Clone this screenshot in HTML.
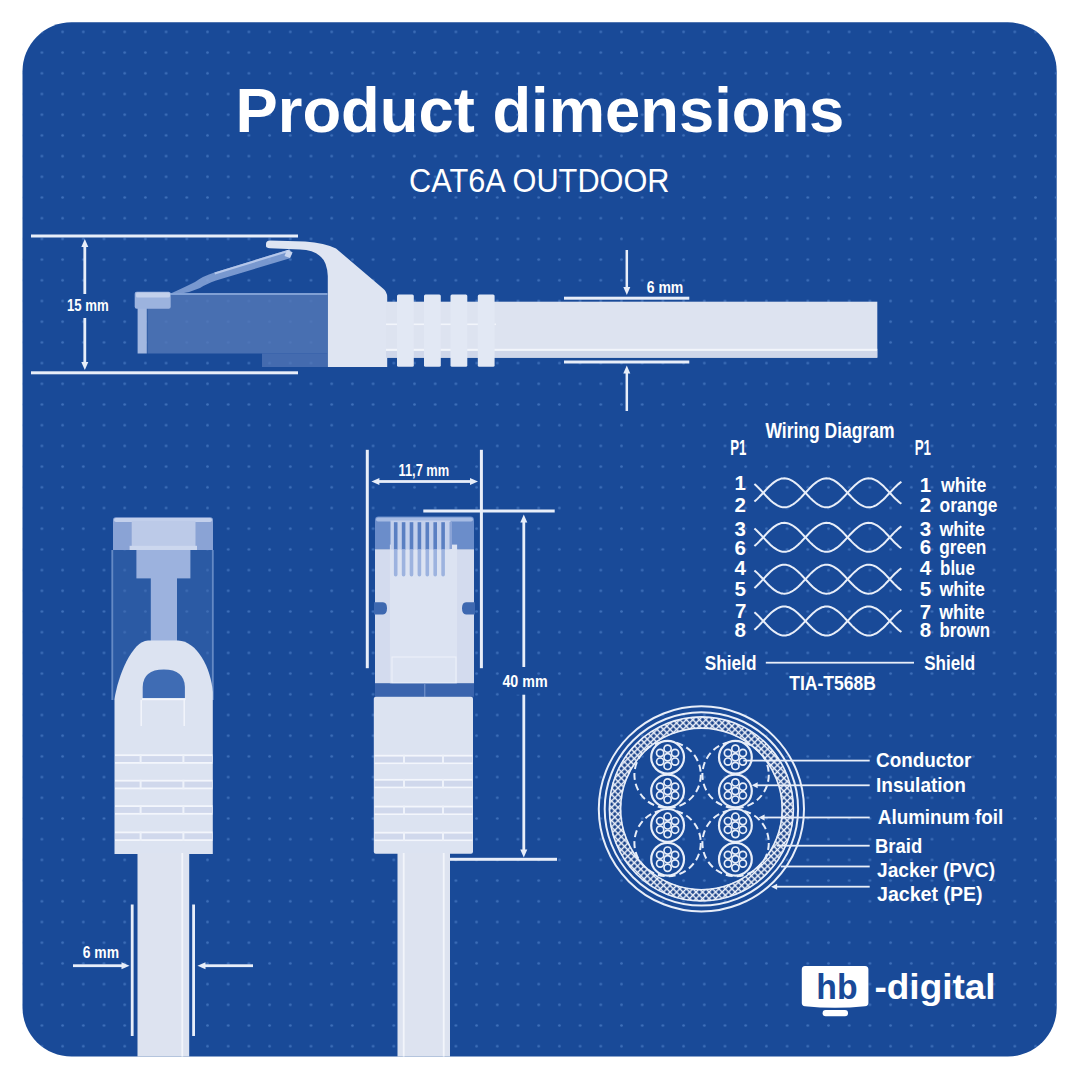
<!DOCTYPE html>
<html><head><meta charset="utf-8"><style>
html,body{margin:0;padding:0;background:#fff;}
svg{display:block;}
text{font-family:"Liberation Sans",sans-serif;}
</style></head><body>
<svg width="1080" height="1080" viewBox="0 0 1080 1080">
<defs>
<clipPath id="panel"><rect x="22.5" y="22.3" width="1034.2" height="1034.3" rx="49"/></clipPath>
<pattern id="dots" patternUnits="userSpaceOnUse" x="31.549999999999997" y="21.549999999999997" width="20.7" height="20.7">
<circle cx="10.35" cy="10.35" r="1.35" fill="#4a7cc4" fill-opacity="0.75"/></pattern>
<pattern id="braid" patternUnits="userSpaceOnUse" width="4.6" height="4.6" patternTransform="rotate(45)">
<rect width="4.6" height="4.6" fill="#eef2fa"/><rect x="1.3" y="1.3" width="3.1" height="3.1" fill="#163f88"/></pattern>
</defs>
<rect x="22.5" y="22.3" width="1034.2" height="1034.3" rx="49" fill="#194a98"/>
<rect x="22.5" y="22.3" width="1034.2" height="1034.3" rx="49" fill="url(#dots)"/>
<g clip-path="url(#panel)">
<text x="235.50" y="132.00" font-size="62.30" font-weight="700" textLength="608.84" lengthAdjust="spacingAndGlyphs" fill="#fff" >Product dimensions</text>
<text x="409.00" y="191.60" font-size="32.50" font-weight="400" textLength="260.53" lengthAdjust="spacingAndGlyphs" fill="#fff" >CAT6A OUTDOOR</text>
<rect x="31.00" y="234.50" width="267.00" height="3" fill="#e8eef9"/>
<rect x="31.00" y="371.30" width="267.00" height="3" fill="#e8eef9"/>
<rect x="83.40" y="246.00" width="2.8" height="117.00" fill="#e8eef9"/>
<path d="M84.80 239.00 L88.30 247.00 L81.30 247.00Z" fill="#e8eef9"/>
<path d="M84.80 370.00 L88.30 362.00 L81.30 362.00Z" fill="#e8eef9"/>
<rect x="78" y="294" width="14" height="24" fill="#194a98"/>
<text x="67.00" y="310.90" font-size="17.40" font-weight="700" textLength="41.78" lengthAdjust="spacingAndGlyphs" fill="#fff" >15 mm</text>
<rect x="147.4" y="293.2" width="180" height="60.3" fill="#5478b8" fill-opacity="0.8"/>
<rect x="262" y="353.5" width="65.4" height="13.5" fill="#5478b8" fill-opacity="0.72"/>
<rect x="147.4" y="293.2" width="180" height="1.6" fill="#8fadde"/>
<rect x="137.6" y="296" width="9.2" height="57.5" fill="#a3b8e0"/>
<rect x="134.7" y="291.8" width="36" height="17" rx="2" fill="#9cb3de"/>
<rect x="136" y="292.5" width="34" height="5" rx="1.5" fill="#c3d1ec"/>
<path d="M170.7 293.5 Q185 287 195 282 Q203 276 214.4 272.5 L289.3 249.4 L292.5 252.5 L290 258.2 L216 280.5 Q206 284 200 288 Q190 292.5 180 293.8Z" fill="#8aa6d8" fill-opacity="0.85"/>
<path d="M214.4 272.5 L289.3 249.4 L290 251.5 L215 274.5Z" fill="#b5c7ea"/>
<path d="M287 250 L292.5 252.5 L290 258 L284.5 256Z" fill="#c8d5ee"/>
<path d="M266 244 Q266 240.4 270 240.4 L305 241.5 Q325 243 336 248.5 L383 288.5 Q387.2 292 387.2 297 L387.2 367 L327.8 367 L327.8 276 Q327 262 321 257 Q314 249.8 300 249.5 L270 248.2 Q266 248 266 246Z" fill="#dfe5f2"/>
<rect x="386" y="301.7" width="491.3" height="56" fill="#dde3f0"/>
<rect x="386" y="348.8" width="491.3" height="2" fill="#f2f5fb"/>
<rect x="386" y="351" width="491.3" height="6.7" fill="#cfd7ea"/>
<rect x="386" y="323.5" width="110" height="1.6" fill="#f2f5fb"/>
<rect x="397" y="294.4" width="16.8" height="72.4" rx="1.5" fill="#e2e8f4"/>
<rect x="424" y="294.4" width="16.8" height="72.4" rx="1.5" fill="#e2e8f4"/>
<rect x="450.5" y="294.4" width="16.8" height="72.4" rx="1.5" fill="#e2e8f4"/>
<rect x="477.8" y="294.4" width="16.8" height="72.4" rx="1.5" fill="#e2e8f4"/>
<rect x="564.00" y="296.70" width="125.30" height="3" fill="#e8eef9"/>
<rect x="564.00" y="360.50" width="125.30" height="3" fill="#e8eef9"/>
<rect x="625.55" y="250.00" width="2.5" height="38.00" fill="#e8eef9"/>
<path d="M626.80 295.00 L630.30 287.00 L623.30 287.00Z" fill="#e8eef9"/>
<rect x="625.55" y="372.50" width="2.5" height="38.50" fill="#e8eef9"/>
<path d="M626.80 365.50 L630.30 373.50 L623.30 373.50Z" fill="#e8eef9"/>
<text x="646.70" y="293.30" font-size="16.60" font-weight="700" textLength="36.63" lengthAdjust="spacingAndGlyphs" fill="#fff" >6 mm</text>
<rect x="365.80" y="449.80" width="3" height="218.40" fill="#e8eef9"/>
<rect x="479.90" y="449.80" width="3" height="218.40" fill="#e8eef9"/>
<rect x="378.40" y="480.10" width="92.60" height="2.8" fill="#e8eef9"/>
<path d="M371.40 481.50 L379.40 478.00 L379.40 485.00Z" fill="#e8eef9"/>
<path d="M478.00 481.50 L470.00 478.00 L470.00 485.00Z" fill="#e8eef9"/>
<text x="398.50" y="475.80" font-size="16.20" font-weight="700" textLength="50.73" lengthAdjust="spacingAndGlyphs" fill="#fff" >11,7 mm</text>
<path d="M375 520 Q375 516.6 378.5 516.6 L470.5 516.6 Q474 516.6 474 520 L474 549.2 L375 549.2Z" fill="#6b8dca"/>
<rect x="376" y="517.5" width="97" height="4" rx="2" fill="#a6bbe3"/>
<rect x="375" y="549.2" width="99" height="134.3" fill="#d3dbee"/>
<rect x="389.9" y="544.6" width="67.2" height="139" fill="#dce3f2"/>
<rect x="390.5" y="520.5" width="60" height="29" fill="#c3d0ec"/>
<rect x="393.90" y="522.2" width="3.6" height="27.5" fill="#5a7fc2"/>
<path d="M393.90 549.2 h3.6 v25.5 q0 1.8 -1.8 1.8 q-1.8 0 -1.8 -1.8Z" fill="#9db3df"/>
<rect x="401.80" y="522.2" width="3.6" height="27.5" fill="#5a7fc2"/>
<path d="M401.80 549.2 h3.6 v25.5 q0 1.8 -1.8 1.8 q-1.8 0 -1.8 -1.8Z" fill="#9db3df"/>
<rect x="409.70" y="522.2" width="3.6" height="27.5" fill="#5a7fc2"/>
<path d="M409.70 549.2 h3.6 v25.5 q0 1.8 -1.8 1.8 q-1.8 0 -1.8 -1.8Z" fill="#9db3df"/>
<rect x="417.60" y="522.2" width="3.6" height="27.5" fill="#5a7fc2"/>
<path d="M417.60 549.2 h3.6 v25.5 q0 1.8 -1.8 1.8 q-1.8 0 -1.8 -1.8Z" fill="#9db3df"/>
<rect x="425.50" y="522.2" width="3.6" height="27.5" fill="#5a7fc2"/>
<path d="M425.50 549.2 h3.6 v25.5 q0 1.8 -1.8 1.8 q-1.8 0 -1.8 -1.8Z" fill="#9db3df"/>
<rect x="433.40" y="522.2" width="3.6" height="27.5" fill="#5a7fc2"/>
<path d="M433.40 549.2 h3.6 v25.5 q0 1.8 -1.8 1.8 q-1.8 0 -1.8 -1.8Z" fill="#9db3df"/>
<rect x="441.30" y="522.2" width="3.6" height="27.5" fill="#5a7fc2"/>
<path d="M441.30 549.2 h3.6 v25.5 q0 1.8 -1.8 1.8 q-1.8 0 -1.8 -1.8Z" fill="#9db3df"/>
<rect x="449.5" y="522" width="2.5" height="27" fill="#8aa3d6"/>
<path d="M374 602.2 L383 602.2 Q387 602.2 387 608.3 Q387 614.4 383 614.4 L374 614.4Z" fill="#3d68b0"/>
<path d="M475 602.2 L466 602.2 Q462 602.2 462 608.3 Q462 614.4 466 614.4 L475 614.4Z" fill="#3d68b0"/>
<rect x="392" y="657" width="64" height="26" fill="none" stroke="#eef2fa" stroke-width="1"/>
<rect x="375" y="683.5" width="99" height="13.3" fill="#3a64ad"/>
<rect x="424.3" y="683.5" width="1" height="13.3" fill="#7d9bd0"/>
<rect x="373.8" y="696.8" width="99.2" height="157" rx="2" fill="#dce3f1"/>
<rect x="374.5" y="754.8" width="98" height="9.3" fill="#f3f6fc"/>
<rect x="374.5" y="756.5999999999999" width="98" height="5.9" fill="#d0d8ec"/>
<rect x="403" y="754.8" width="2" height="9.3" fill="#eef2fa"/>
<rect x="442" y="754.8" width="2" height="9.3" fill="#eef2fa"/>
<rect x="374.5" y="778.9" width="98" height="9.3" fill="#f3f6fc"/>
<rect x="374.5" y="780.6999999999999" width="98" height="5.9" fill="#d0d8ec"/>
<rect x="403" y="778.9" width="2" height="9.3" fill="#eef2fa"/>
<rect x="442" y="778.9" width="2" height="9.3" fill="#eef2fa"/>
<rect x="374.5" y="805.7" width="98" height="9.3" fill="#f3f6fc"/>
<rect x="374.5" y="807.5" width="98" height="5.9" fill="#d0d8ec"/>
<rect x="403" y="805.7" width="2" height="9.3" fill="#eef2fa"/>
<rect x="442" y="805.7" width="2" height="9.3" fill="#eef2fa"/>
<rect x="374.5" y="831.8" width="98" height="9.3" fill="#f3f6fc"/>
<rect x="374.5" y="833.5999999999999" width="98" height="5.9" fill="#d0d8ec"/>
<rect x="403" y="831.8" width="2" height="9.3" fill="#eef2fa"/>
<rect x="442" y="831.8" width="2" height="9.3" fill="#eef2fa"/>
<rect x="397.5" y="853" width="52.5" height="210" fill="#dde3f0"/>
<rect x="402.8" y="853" width="1.8" height="210" fill="#f2f5fb"/>
<rect x="442.8" y="853" width="1.8" height="210" fill="#f2f5fb"/>
<rect x="423.30" y="509.50" width="131.40" height="3" fill="#e8eef9"/>
<rect x="522.40" y="521.50" width="2.8" height="329.00" fill="#e8eef9"/>
<path d="M523.80 514.50 L527.30 522.50 L520.30 522.50Z" fill="#e8eef9"/>
<path d="M523.80 857.50 L527.30 849.50 L520.30 849.50Z" fill="#e8eef9"/>
<rect x="515" y="667" width="18" height="27.7" fill="#194a98"/>
<text x="502.40" y="687.20" font-size="16.60" font-weight="700" textLength="45.18" lengthAdjust="spacingAndGlyphs" fill="#fff" >40 mm</text>
<rect x="450.00" y="857.80" width="107.00" height="3" fill="#e8eef9"/>
<rect x="111.4" y="550" width="102.3" height="150" fill="#3d69b0" fill-opacity="0.5"/>
<rect x="111.4" y="550" width="1.8" height="150" fill="#8aa8da" fill-opacity="0.6"/>
<rect x="211.9" y="550" width="1.8" height="150" fill="#8aa8da" fill-opacity="0.6"/>
<path d="M113 520 Q113 517.3 116 517.3 L210 517.3 Q213 517.3 213 520 L213 550 L113 550Z" fill="#8aa3d5"/>
<rect x="114" y="518" width="98" height="4" rx="2" fill="#c3d0ec"/>
<rect x="131.7" y="520.8" width="63.8" height="29" fill="#bccae8"/>
<rect x="129.6" y="545.8" width="67.4" height="4.2" fill="#ccd7ee"/>
<rect x="136.4" y="550" width="54" height="28.4" fill="#9cb2de"/>
<rect x="150.8" y="578" width="26.2" height="64" fill="#9cb2de"/>
<path d="M148 640.5 L178 640.5 C197 641 211 668 212.8 692 L212.8 854 L114.5 854 L114.5 699 C118 676 132 641 148 640.5Z" fill="#dce3f1"/>
<path d="M142.7 698.2 L142.7 687 Q143 669.4 163.8 669.4 Q184.5 669.4 184.9 687 L184.9 698.2Z" fill="#3f6cb4"/>
<rect x="142" y="698.2" width="43.5" height="2" fill="#f3f6fc"/>
<rect x="140.5" y="700" width="1.4" height="26" fill="#f3f6fc"/>
<rect x="183.5" y="700" width="1.4" height="26" fill="#f3f6fc"/>
<rect x="115" y="754.3" width="97.5" height="9.5" fill="#f3f6fc"/>
<rect x="115" y="756.0999999999999" width="97.5" height="5.9" fill="#d0d8ec"/>
<rect x="139.6" y="754.3" width="2" height="9.5" fill="#eef2fa"/>
<rect x="182.4" y="754.3" width="2" height="9.5" fill="#eef2fa"/>
<rect x="115" y="779.8" width="97.5" height="9.5" fill="#f3f6fc"/>
<rect x="115" y="781.5999999999999" width="97.5" height="5.9" fill="#d0d8ec"/>
<rect x="139.6" y="779.8" width="2" height="9.5" fill="#eef2fa"/>
<rect x="182.4" y="779.8" width="2" height="9.5" fill="#eef2fa"/>
<rect x="115" y="805.2" width="97.5" height="9.5" fill="#f3f6fc"/>
<rect x="115" y="807.0" width="97.5" height="5.9" fill="#d0d8ec"/>
<rect x="139.6" y="805.2" width="2" height="9.5" fill="#eef2fa"/>
<rect x="182.4" y="805.2" width="2" height="9.5" fill="#eef2fa"/>
<rect x="115" y="831.5" width="97.5" height="9.5" fill="#f3f6fc"/>
<rect x="115" y="833.3" width="97.5" height="5.9" fill="#d0d8ec"/>
<rect x="139.6" y="831.5" width="2" height="9.5" fill="#eef2fa"/>
<rect x="182.4" y="831.5" width="2" height="9.5" fill="#eef2fa"/>
<rect x="137.5" y="853" width="51.7" height="210" fill="#dde3f0"/>
<rect x="181.4" y="853" width="1.8" height="210" fill="#f2f5fb"/>
<rect x="130.80" y="904.50" width="2.8" height="131.50" fill="#e8eef9"/>
<rect x="192.20" y="904.50" width="2.8" height="131.50" fill="#e8eef9"/>
<rect x="73.00" y="964.30" width="49.50" height="2.8" fill="#e8eef9"/>
<path d="M129.50 965.70 L121.50 962.20 L121.50 969.20Z" fill="#e8eef9"/>
<rect x="204.50" y="964.30" width="48.50" height="2.8" fill="#e8eef9"/>
<path d="M197.50 965.70 L205.50 962.20 L205.50 969.20Z" fill="#e8eef9"/>
<text x="82.80" y="958.40" font-size="15.80" font-weight="700" textLength="36.23" lengthAdjust="spacingAndGlyphs" fill="#fff" >6 mm</text>
<text x="765.40" y="437.80" font-size="21.20" font-weight="700" textLength="129.22" lengthAdjust="spacingAndGlyphs" fill="#fff" >Wiring Diagram</text>
<text x="730.20" y="454.80" font-size="21.50" font-weight="700" textLength="16.18" lengthAdjust="spacingAndGlyphs" fill="#fff" >P1</text>
<text x="914.70" y="454.80" font-size="21.50" font-weight="700" textLength="16.28" lengthAdjust="spacingAndGlyphs" fill="#fff" >P1</text>
<text x="734.40" y="490.40" font-size="20.50" font-weight="700" fill="#fff" >1</text>
<text x="734.40" y="512.00" font-size="20.50" font-weight="700" fill="#fff" >2</text>
<text x="734.40" y="535.80" font-size="20.50" font-weight="700" fill="#fff" >3</text>
<text x="734.40" y="554.50" font-size="20.50" font-weight="700" fill="#fff" >6</text>
<text x="734.40" y="575.40" font-size="20.50" font-weight="700" fill="#fff" >4</text>
<text x="734.40" y="595.50" font-size="20.50" font-weight="700" fill="#fff" >5</text>
<text x="735.00" y="617.60" font-size="20.50" font-weight="700" fill="#fff" >7</text>
<text x="734.40" y="636.90" font-size="20.50" font-weight="700" fill="#fff" >8</text>
<text x="919.70" y="491.80" font-size="20.50" font-weight="700" fill="#fff" >1</text>
<text x="941.09" y="491.80" font-size="20.50" font-weight="700" textLength="45.32" lengthAdjust="spacingAndGlyphs" fill="#fff" >white</text>
<text x="919.70" y="511.70" font-size="20.50" font-weight="700" fill="#fff" >2</text>
<text x="939.60" y="511.70" font-size="20.50" font-weight="700" textLength="57.88" lengthAdjust="spacingAndGlyphs" fill="#fff" >orange</text>
<text x="919.70" y="536.20" font-size="20.50" font-weight="700" fill="#fff" >3</text>
<text x="939.49" y="536.20" font-size="20.50" font-weight="700" textLength="45.32" lengthAdjust="spacingAndGlyphs" fill="#fff" >white</text>
<text x="919.70" y="553.80" font-size="20.50" font-weight="700" fill="#fff" >6</text>
<text x="939.20" y="553.80" font-size="20.50" font-weight="700" textLength="47.17" lengthAdjust="spacingAndGlyphs" fill="#fff" >green</text>
<text x="919.70" y="575.40" font-size="20.50" font-weight="700" fill="#fff" >4</text>
<text x="940.10" y="575.40" font-size="20.50" font-weight="700" textLength="34.71" lengthAdjust="spacingAndGlyphs" fill="#fff" >blue</text>
<text x="919.70" y="595.70" font-size="20.50" font-weight="700" fill="#fff" >5</text>
<text x="939.49" y="595.70" font-size="20.50" font-weight="700" textLength="45.32" lengthAdjust="spacingAndGlyphs" fill="#fff" >white</text>
<text x="919.70" y="618.90" font-size="20.50" font-weight="700" fill="#fff" >7</text>
<text x="939.29" y="618.90" font-size="20.50" font-weight="700" textLength="45.22" lengthAdjust="spacingAndGlyphs" fill="#fff" >white</text>
<text x="919.70" y="637.40" font-size="20.50" font-weight="700" fill="#fff" >8</text>
<text x="939.40" y="637.40" font-size="20.50" font-weight="700" textLength="50.69" lengthAdjust="spacingAndGlyphs" fill="#fff" >brown</text>
<path d="M754.4,484.0 L755.9,485.3 L757.4,486.7 L758.9,488.2 L760.4,489.8 L761.9,491.4 L763.4,493.0 L764.9,494.6 L766.4,496.2 L767.9,497.8 L769.4,499.3 L770.9,500.7 L772.4,502.0 L773.9,503.2 L775.4,504.2 L776.9,505.2 L778.4,505.9 L779.9,506.5 L781.4,507.0 L782.9,507.2 L784.4,507.3 L785.9,507.2 L787.4,506.9 L788.9,506.5 L790.4,505.8 L791.9,505.0 L793.4,504.1 L794.9,503.0 L796.4,501.8 L797.9,500.5 L799.4,499.1 L800.9,497.6 L802.4,496.0 L803.9,494.4 L805.4,492.8 L806.9,491.2 L808.4,489.6 L809.9,488.0 L811.4,486.5 L812.9,485.1 L814.4,483.8 L815.9,482.6 L817.4,481.5 L818.9,480.6 L820.4,479.8 L821.9,479.1 L823.4,478.7 L824.9,478.4 L826.4,478.3 L827.9,478.4 L829.4,478.6 L830.9,479.1 L832.4,479.7 L833.9,480.4 L835.4,481.4 L836.9,482.4 L838.4,483.6 L839.9,484.9 L841.4,486.3 L842.9,487.8 L844.4,489.4 L845.9,491.0 L847.4,492.6 L848.9,494.2 L850.4,495.8 L851.9,497.4 L853.4,498.9 L854.9,500.3 L856.4,501.6 L857.9,502.9 L859.4,504.0 L860.9,504.9 L862.4,505.7 L863.9,506.4 L865.4,506.9 L866.9,507.2 L868.4,507.3 L869.9,507.2 L871.4,507.0 L872.9,506.6 L874.4,506.0 L875.9,505.3 L877.4,504.4 L878.9,503.3 L880.4,502.1 L881.9,500.8 L883.4,499.5 L884.9,498.0 L886.4,496.4 L887.9,494.8 L889.4,493.2 L890.9,491.6 L892.4,490.0 L893.9,488.4 L895.4,486.9 L896.9,485.5 L898.4,484.1 L899.9,482.9 L901.4,481.8" fill="none" stroke="#e8eef9" stroke-width="2"/>
<path d="M754.4,501.6 L755.9,500.3 L757.4,498.9 L758.9,497.4 L760.4,495.8 L761.9,494.2 L763.4,492.6 L764.9,491.0 L766.4,489.4 L767.9,487.8 L769.4,486.3 L770.9,484.9 L772.4,483.6 L773.9,482.4 L775.4,481.4 L776.9,480.4 L778.4,479.7 L779.9,479.1 L781.4,478.6 L782.9,478.4 L784.4,478.3 L785.9,478.4 L787.4,478.7 L788.9,479.1 L790.4,479.8 L791.9,480.6 L793.4,481.5 L794.9,482.6 L796.4,483.8 L797.9,485.1 L799.4,486.5 L800.9,488.0 L802.4,489.6 L803.9,491.2 L805.4,492.8 L806.9,494.4 L808.4,496.0 L809.9,497.6 L811.4,499.1 L812.9,500.5 L814.4,501.8 L815.9,503.0 L817.4,504.1 L818.9,505.0 L820.4,505.8 L821.9,506.5 L823.4,506.9 L824.9,507.2 L826.4,507.3 L827.9,507.2 L829.4,507.0 L830.9,506.5 L832.4,505.9 L833.9,505.2 L835.4,504.2 L836.9,503.2 L838.4,502.0 L839.9,500.7 L841.4,499.3 L842.9,497.8 L844.4,496.2 L845.9,494.6 L847.4,493.0 L848.9,491.4 L850.4,489.8 L851.9,488.2 L853.4,486.7 L854.9,485.3 L856.4,484.0 L857.9,482.7 L859.4,481.6 L860.9,480.7 L862.4,479.9 L863.9,479.2 L865.4,478.7 L866.9,478.4 L868.4,478.3 L869.9,478.4 L871.4,478.6 L872.9,479.0 L874.4,479.6 L875.9,480.3 L877.4,481.2 L878.9,482.3 L880.4,483.5 L881.9,484.8 L883.4,486.1 L884.9,487.6 L886.4,489.2 L887.9,490.8 L889.4,492.4 L890.9,494.0 L892.4,495.6 L893.9,497.2 L895.4,498.7 L896.9,500.1 L898.4,501.5 L899.9,502.7 L901.4,503.8" fill="none" stroke="#e8eef9" stroke-width="2"/>
<path d="M754.4,528.5 L755.9,529.8 L757.4,531.2 L758.9,532.7 L760.4,534.3 L761.9,535.9 L763.4,537.5 L764.9,539.1 L766.4,540.7 L767.9,542.3 L769.4,543.8 L770.9,545.2 L772.4,546.5 L773.9,547.7 L775.4,548.7 L776.9,549.7 L778.4,550.4 L779.9,551.0 L781.4,551.5 L782.9,551.7 L784.4,551.8 L785.9,551.7 L787.4,551.4 L788.9,551.0 L790.4,550.3 L791.9,549.5 L793.4,548.6 L794.9,547.5 L796.4,546.3 L797.9,545.0 L799.4,543.6 L800.9,542.1 L802.4,540.5 L803.9,538.9 L805.4,537.3 L806.9,535.7 L808.4,534.1 L809.9,532.5 L811.4,531.0 L812.9,529.6 L814.4,528.3 L815.9,527.1 L817.4,526.0 L818.9,525.1 L820.4,524.3 L821.9,523.6 L823.4,523.2 L824.9,522.9 L826.4,522.8 L827.9,522.9 L829.4,523.1 L830.9,523.6 L832.4,524.2 L833.9,524.9 L835.4,525.9 L836.9,526.9 L838.4,528.1 L839.9,529.4 L841.4,530.8 L842.9,532.3 L844.4,533.9 L845.9,535.5 L847.4,537.1 L848.9,538.7 L850.4,540.3 L851.9,541.9 L853.4,543.4 L854.9,544.8 L856.4,546.1 L857.9,547.4 L859.4,548.5 L860.9,549.4 L862.4,550.2 L863.9,550.9 L865.4,551.4 L866.9,551.7 L868.4,551.8 L869.9,551.7 L871.4,551.5 L872.9,551.1 L874.4,550.5 L875.9,549.8 L877.4,548.9 L878.9,547.8 L880.4,546.6 L881.9,545.3 L883.4,544.0 L884.9,542.5 L886.4,540.9 L887.9,539.3 L889.4,537.7 L890.9,536.1 L892.4,534.5 L893.9,532.9 L895.4,531.4 L896.9,530.0 L898.4,528.6 L899.9,527.4 L901.4,526.3" fill="none" stroke="#e8eef9" stroke-width="2"/>
<path d="M754.4,546.1 L755.9,544.8 L757.4,543.4 L758.9,541.9 L760.4,540.3 L761.9,538.7 L763.4,537.1 L764.9,535.5 L766.4,533.9 L767.9,532.3 L769.4,530.8 L770.9,529.4 L772.4,528.1 L773.9,526.9 L775.4,525.9 L776.9,524.9 L778.4,524.2 L779.9,523.6 L781.4,523.1 L782.9,522.9 L784.4,522.8 L785.9,522.9 L787.4,523.2 L788.9,523.6 L790.4,524.3 L791.9,525.1 L793.4,526.0 L794.9,527.1 L796.4,528.3 L797.9,529.6 L799.4,531.0 L800.9,532.5 L802.4,534.1 L803.9,535.7 L805.4,537.3 L806.9,538.9 L808.4,540.5 L809.9,542.1 L811.4,543.6 L812.9,545.0 L814.4,546.3 L815.9,547.5 L817.4,548.6 L818.9,549.5 L820.4,550.3 L821.9,551.0 L823.4,551.4 L824.9,551.7 L826.4,551.8 L827.9,551.7 L829.4,551.5 L830.9,551.0 L832.4,550.4 L833.9,549.7 L835.4,548.7 L836.9,547.7 L838.4,546.5 L839.9,545.2 L841.4,543.8 L842.9,542.3 L844.4,540.7 L845.9,539.1 L847.4,537.5 L848.9,535.9 L850.4,534.3 L851.9,532.7 L853.4,531.2 L854.9,529.8 L856.4,528.5 L857.9,527.2 L859.4,526.1 L860.9,525.2 L862.4,524.4 L863.9,523.7 L865.4,523.2 L866.9,522.9 L868.4,522.8 L869.9,522.9 L871.4,523.1 L872.9,523.5 L874.4,524.1 L875.9,524.8 L877.4,525.7 L878.9,526.8 L880.4,528.0 L881.9,529.3 L883.4,530.6 L884.9,532.1 L886.4,533.7 L887.9,535.3 L889.4,536.9 L890.9,538.5 L892.4,540.1 L893.9,541.7 L895.4,543.2 L896.9,544.6 L898.4,546.0 L899.9,547.2 L901.4,548.3" fill="none" stroke="#e8eef9" stroke-width="2"/>
<path d="M754.4,570.4 L755.9,571.7 L757.4,573.1 L758.9,574.6 L760.4,576.2 L761.9,577.8 L763.4,579.4 L764.9,581.0 L766.4,582.6 L767.9,584.2 L769.4,585.7 L770.9,587.1 L772.4,588.4 L773.9,589.6 L775.4,590.6 L776.9,591.6 L778.4,592.3 L779.9,592.9 L781.4,593.4 L782.9,593.6 L784.4,593.7 L785.9,593.6 L787.4,593.3 L788.9,592.9 L790.4,592.2 L791.9,591.4 L793.4,590.5 L794.9,589.4 L796.4,588.2 L797.9,586.9 L799.4,585.5 L800.9,584.0 L802.4,582.4 L803.9,580.8 L805.4,579.2 L806.9,577.6 L808.4,576.0 L809.9,574.4 L811.4,572.9 L812.9,571.5 L814.4,570.2 L815.9,569.0 L817.4,567.9 L818.9,567.0 L820.4,566.2 L821.9,565.5 L823.4,565.1 L824.9,564.8 L826.4,564.7 L827.9,564.8 L829.4,565.0 L830.9,565.5 L832.4,566.1 L833.9,566.8 L835.4,567.8 L836.9,568.8 L838.4,570.0 L839.9,571.3 L841.4,572.7 L842.9,574.2 L844.4,575.8 L845.9,577.4 L847.4,579.0 L848.9,580.6 L850.4,582.2 L851.9,583.8 L853.4,585.3 L854.9,586.7 L856.4,588.0 L857.9,589.3 L859.4,590.4 L860.9,591.3 L862.4,592.1 L863.9,592.8 L865.4,593.3 L866.9,593.6 L868.4,593.7 L869.9,593.6 L871.4,593.4 L872.9,593.0 L874.4,592.4 L875.9,591.7 L877.4,590.8 L878.9,589.7 L880.4,588.5 L881.9,587.2 L883.4,585.9 L884.9,584.4 L886.4,582.8 L887.9,581.2 L889.4,579.6 L890.9,578.0 L892.4,576.4 L893.9,574.8 L895.4,573.3 L896.9,571.9 L898.4,570.5 L899.9,569.3 L901.4,568.2" fill="none" stroke="#e8eef9" stroke-width="2"/>
<path d="M754.4,588.0 L755.9,586.7 L757.4,585.3 L758.9,583.8 L760.4,582.2 L761.9,580.6 L763.4,579.0 L764.9,577.4 L766.4,575.8 L767.9,574.2 L769.4,572.7 L770.9,571.3 L772.4,570.0 L773.9,568.8 L775.4,567.8 L776.9,566.8 L778.4,566.1 L779.9,565.5 L781.4,565.0 L782.9,564.8 L784.4,564.7 L785.9,564.8 L787.4,565.1 L788.9,565.5 L790.4,566.2 L791.9,567.0 L793.4,567.9 L794.9,569.0 L796.4,570.2 L797.9,571.5 L799.4,572.9 L800.9,574.4 L802.4,576.0 L803.9,577.6 L805.4,579.2 L806.9,580.8 L808.4,582.4 L809.9,584.0 L811.4,585.5 L812.9,586.9 L814.4,588.2 L815.9,589.4 L817.4,590.5 L818.9,591.4 L820.4,592.2 L821.9,592.9 L823.4,593.3 L824.9,593.6 L826.4,593.7 L827.9,593.6 L829.4,593.4 L830.9,592.9 L832.4,592.3 L833.9,591.6 L835.4,590.6 L836.9,589.6 L838.4,588.4 L839.9,587.1 L841.4,585.7 L842.9,584.2 L844.4,582.6 L845.9,581.0 L847.4,579.4 L848.9,577.8 L850.4,576.2 L851.9,574.6 L853.4,573.1 L854.9,571.7 L856.4,570.4 L857.9,569.1 L859.4,568.0 L860.9,567.1 L862.4,566.3 L863.9,565.6 L865.4,565.1 L866.9,564.8 L868.4,564.7 L869.9,564.8 L871.4,565.0 L872.9,565.4 L874.4,566.0 L875.9,566.7 L877.4,567.6 L878.9,568.7 L880.4,569.9 L881.9,571.2 L883.4,572.5 L884.9,574.0 L886.4,575.6 L887.9,577.2 L889.4,578.8 L890.9,580.4 L892.4,582.0 L893.9,583.6 L895.4,585.1 L896.9,586.5 L898.4,587.9 L899.9,589.1 L901.4,590.2" fill="none" stroke="#e8eef9" stroke-width="2"/>
<path d="M754.4,612.2 L755.9,613.5 L757.4,614.9 L758.9,616.4 L760.4,618.0 L761.9,619.6 L763.4,621.2 L764.9,622.8 L766.4,624.4 L767.9,626.0 L769.4,627.5 L770.9,628.9 L772.4,630.2 L773.9,631.4 L775.4,632.4 L776.9,633.4 L778.4,634.1 L779.9,634.7 L781.4,635.2 L782.9,635.4 L784.4,635.5 L785.9,635.4 L787.4,635.1 L788.9,634.7 L790.4,634.0 L791.9,633.2 L793.4,632.3 L794.9,631.2 L796.4,630.0 L797.9,628.7 L799.4,627.3 L800.9,625.8 L802.4,624.2 L803.9,622.6 L805.4,621.0 L806.9,619.4 L808.4,617.8 L809.9,616.2 L811.4,614.7 L812.9,613.3 L814.4,612.0 L815.9,610.8 L817.4,609.7 L818.9,608.8 L820.4,608.0 L821.9,607.3 L823.4,606.9 L824.9,606.6 L826.4,606.5 L827.9,606.6 L829.4,606.8 L830.9,607.3 L832.4,607.9 L833.9,608.6 L835.4,609.6 L836.9,610.6 L838.4,611.8 L839.9,613.1 L841.4,614.5 L842.9,616.0 L844.4,617.6 L845.9,619.2 L847.4,620.8 L848.9,622.4 L850.4,624.0 L851.9,625.6 L853.4,627.1 L854.9,628.5 L856.4,629.8 L857.9,631.1 L859.4,632.2 L860.9,633.1 L862.4,633.9 L863.9,634.6 L865.4,635.1 L866.9,635.4 L868.4,635.5 L869.9,635.4 L871.4,635.2 L872.9,634.8 L874.4,634.2 L875.9,633.5 L877.4,632.6 L878.9,631.5 L880.4,630.3 L881.9,629.0 L883.4,627.7 L884.9,626.2 L886.4,624.6 L887.9,623.0 L889.4,621.4 L890.9,619.8 L892.4,618.2 L893.9,616.6 L895.4,615.1 L896.9,613.7 L898.4,612.3 L899.9,611.1 L901.4,610.0" fill="none" stroke="#e8eef9" stroke-width="2"/>
<path d="M754.4,629.8 L755.9,628.5 L757.4,627.1 L758.9,625.6 L760.4,624.0 L761.9,622.4 L763.4,620.8 L764.9,619.2 L766.4,617.6 L767.9,616.0 L769.4,614.5 L770.9,613.1 L772.4,611.8 L773.9,610.6 L775.4,609.6 L776.9,608.6 L778.4,607.9 L779.9,607.3 L781.4,606.8 L782.9,606.6 L784.4,606.5 L785.9,606.6 L787.4,606.9 L788.9,607.3 L790.4,608.0 L791.9,608.8 L793.4,609.7 L794.9,610.8 L796.4,612.0 L797.9,613.3 L799.4,614.7 L800.9,616.2 L802.4,617.8 L803.9,619.4 L805.4,621.0 L806.9,622.6 L808.4,624.2 L809.9,625.8 L811.4,627.3 L812.9,628.7 L814.4,630.0 L815.9,631.2 L817.4,632.3 L818.9,633.2 L820.4,634.0 L821.9,634.7 L823.4,635.1 L824.9,635.4 L826.4,635.5 L827.9,635.4 L829.4,635.2 L830.9,634.7 L832.4,634.1 L833.9,633.4 L835.4,632.4 L836.9,631.4 L838.4,630.2 L839.9,628.9 L841.4,627.5 L842.9,626.0 L844.4,624.4 L845.9,622.8 L847.4,621.2 L848.9,619.6 L850.4,618.0 L851.9,616.4 L853.4,614.9 L854.9,613.5 L856.4,612.2 L857.9,610.9 L859.4,609.8 L860.9,608.9 L862.4,608.1 L863.9,607.4 L865.4,606.9 L866.9,606.6 L868.4,606.5 L869.9,606.6 L871.4,606.8 L872.9,607.2 L874.4,607.8 L875.9,608.5 L877.4,609.4 L878.9,610.5 L880.4,611.7 L881.9,613.0 L883.4,614.3 L884.9,615.8 L886.4,617.4 L887.9,619.0 L889.4,620.6 L890.9,622.2 L892.4,623.8 L893.9,625.4 L895.4,626.9 L896.9,628.3 L898.4,629.7 L899.9,630.9 L901.4,632.0" fill="none" stroke="#e8eef9" stroke-width="2"/>
<text x="704.80" y="669.70" font-size="20.00" font-weight="700" textLength="51.61" lengthAdjust="spacingAndGlyphs" fill="#fff" >Shield</text>
<text x="924.20" y="669.70" font-size="20.00" font-weight="700" textLength="51.01" lengthAdjust="spacingAndGlyphs" fill="#fff" >Shield</text>
<rect x="765.80" y="661.80" width="148.20" height="1.8" fill="#e8eef9"/>
<text x="789.20" y="690.10" font-size="20.00" font-weight="700" textLength="86.71" lengthAdjust="spacingAndGlyphs" fill="#fff" >TIA-T568B</text>
<circle cx="701.4" cy="808.9" r="102.6" fill="none" stroke="#e8eef9" stroke-width="2"/>
<circle cx="701.4" cy="808.9" r="96.7" fill="none" stroke="#e8eef9" stroke-width="2"/>
<circle cx="701.4" cy="808.9" r="86.4" fill="none" stroke="url(#braid)" stroke-width="12.2"/>
<circle cx="701.4" cy="808.9" r="92" fill="none" stroke="#e8eef9" stroke-width="1.6"/>
<circle cx="701.4" cy="808.9" r="80.8" fill="none" stroke="#e8eef9" stroke-width="1.6"/>
<circle cx="667.6" cy="774.8" r="33.2" fill="none" stroke="#e8eef9" stroke-width="2" stroke-dasharray="7 4"/>
<circle cx="667.6" cy="843" r="33.2" fill="none" stroke="#e8eef9" stroke-width="2" stroke-dasharray="7 4"/>
<circle cx="735.6" cy="774.8" r="33.2" fill="none" stroke="#e8eef9" stroke-width="2" stroke-dasharray="7 4"/>
<circle cx="735.6" cy="843" r="33.2" fill="none" stroke="#e8eef9" stroke-width="2" stroke-dasharray="7 4"/>
<circle cx="667.6" cy="757.3" r="16.4" fill="#194a98" stroke="#e8eef9" stroke-width="2.2"/>
<circle cx="667.6" cy="757.3" r="3.6" fill="none" stroke="#e8eef9" stroke-width="1.7"/>
<circle cx="667.60" cy="765.90" r="3.6" fill="none" stroke="#e8eef9" stroke-width="1.7"/>
<circle cx="660.15" cy="761.60" r="3.6" fill="none" stroke="#e8eef9" stroke-width="1.7"/>
<circle cx="660.15" cy="753.00" r="3.6" fill="none" stroke="#e8eef9" stroke-width="1.7"/>
<circle cx="667.60" cy="748.70" r="3.6" fill="none" stroke="#e8eef9" stroke-width="1.7"/>
<circle cx="675.05" cy="753.00" r="3.6" fill="none" stroke="#e8eef9" stroke-width="1.7"/>
<circle cx="675.05" cy="761.60" r="3.6" fill="none" stroke="#e8eef9" stroke-width="1.7"/>
<circle cx="667.6" cy="791" r="16.4" fill="#194a98" stroke="#e8eef9" stroke-width="2.2"/>
<circle cx="667.6" cy="791" r="3.6" fill="none" stroke="#e8eef9" stroke-width="1.7"/>
<circle cx="667.60" cy="799.60" r="3.6" fill="none" stroke="#e8eef9" stroke-width="1.7"/>
<circle cx="660.15" cy="795.30" r="3.6" fill="none" stroke="#e8eef9" stroke-width="1.7"/>
<circle cx="660.15" cy="786.70" r="3.6" fill="none" stroke="#e8eef9" stroke-width="1.7"/>
<circle cx="667.60" cy="782.40" r="3.6" fill="none" stroke="#e8eef9" stroke-width="1.7"/>
<circle cx="675.05" cy="786.70" r="3.6" fill="none" stroke="#e8eef9" stroke-width="1.7"/>
<circle cx="675.05" cy="795.30" r="3.6" fill="none" stroke="#e8eef9" stroke-width="1.7"/>
<circle cx="667.6" cy="825.4" r="16.4" fill="#194a98" stroke="#e8eef9" stroke-width="2.2"/>
<circle cx="667.6" cy="825.4" r="3.6" fill="none" stroke="#e8eef9" stroke-width="1.7"/>
<circle cx="667.60" cy="834.00" r="3.6" fill="none" stroke="#e8eef9" stroke-width="1.7"/>
<circle cx="660.15" cy="829.70" r="3.6" fill="none" stroke="#e8eef9" stroke-width="1.7"/>
<circle cx="660.15" cy="821.10" r="3.6" fill="none" stroke="#e8eef9" stroke-width="1.7"/>
<circle cx="667.60" cy="816.80" r="3.6" fill="none" stroke="#e8eef9" stroke-width="1.7"/>
<circle cx="675.05" cy="821.10" r="3.6" fill="none" stroke="#e8eef9" stroke-width="1.7"/>
<circle cx="675.05" cy="829.70" r="3.6" fill="none" stroke="#e8eef9" stroke-width="1.7"/>
<circle cx="667.6" cy="859.2" r="16.4" fill="#194a98" stroke="#e8eef9" stroke-width="2.2"/>
<circle cx="667.6" cy="859.2" r="3.6" fill="none" stroke="#e8eef9" stroke-width="1.7"/>
<circle cx="667.60" cy="867.80" r="3.6" fill="none" stroke="#e8eef9" stroke-width="1.7"/>
<circle cx="660.15" cy="863.50" r="3.6" fill="none" stroke="#e8eef9" stroke-width="1.7"/>
<circle cx="660.15" cy="854.90" r="3.6" fill="none" stroke="#e8eef9" stroke-width="1.7"/>
<circle cx="667.60" cy="850.60" r="3.6" fill="none" stroke="#e8eef9" stroke-width="1.7"/>
<circle cx="675.05" cy="854.90" r="3.6" fill="none" stroke="#e8eef9" stroke-width="1.7"/>
<circle cx="675.05" cy="863.50" r="3.6" fill="none" stroke="#e8eef9" stroke-width="1.7"/>
<circle cx="735.4" cy="757.3" r="16.4" fill="#194a98" stroke="#e8eef9" stroke-width="2.2"/>
<circle cx="735.4" cy="757.3" r="3.6" fill="none" stroke="#e8eef9" stroke-width="1.7"/>
<circle cx="735.40" cy="765.90" r="3.6" fill="none" stroke="#e8eef9" stroke-width="1.7"/>
<circle cx="727.95" cy="761.60" r="3.6" fill="none" stroke="#e8eef9" stroke-width="1.7"/>
<circle cx="727.95" cy="753.00" r="3.6" fill="none" stroke="#e8eef9" stroke-width="1.7"/>
<circle cx="735.40" cy="748.70" r="3.6" fill="none" stroke="#e8eef9" stroke-width="1.7"/>
<circle cx="742.85" cy="753.00" r="3.6" fill="none" stroke="#e8eef9" stroke-width="1.7"/>
<circle cx="742.85" cy="761.60" r="3.6" fill="none" stroke="#e8eef9" stroke-width="1.7"/>
<circle cx="735.4" cy="791" r="16.4" fill="#194a98" stroke="#e8eef9" stroke-width="2.2"/>
<circle cx="735.4" cy="791" r="3.6" fill="none" stroke="#e8eef9" stroke-width="1.7"/>
<circle cx="735.40" cy="799.60" r="3.6" fill="none" stroke="#e8eef9" stroke-width="1.7"/>
<circle cx="727.95" cy="795.30" r="3.6" fill="none" stroke="#e8eef9" stroke-width="1.7"/>
<circle cx="727.95" cy="786.70" r="3.6" fill="none" stroke="#e8eef9" stroke-width="1.7"/>
<circle cx="735.40" cy="782.40" r="3.6" fill="none" stroke="#e8eef9" stroke-width="1.7"/>
<circle cx="742.85" cy="786.70" r="3.6" fill="none" stroke="#e8eef9" stroke-width="1.7"/>
<circle cx="742.85" cy="795.30" r="3.6" fill="none" stroke="#e8eef9" stroke-width="1.7"/>
<circle cx="735.4" cy="825.4" r="16.4" fill="#194a98" stroke="#e8eef9" stroke-width="2.2"/>
<circle cx="735.4" cy="825.4" r="3.6" fill="none" stroke="#e8eef9" stroke-width="1.7"/>
<circle cx="735.40" cy="834.00" r="3.6" fill="none" stroke="#e8eef9" stroke-width="1.7"/>
<circle cx="727.95" cy="829.70" r="3.6" fill="none" stroke="#e8eef9" stroke-width="1.7"/>
<circle cx="727.95" cy="821.10" r="3.6" fill="none" stroke="#e8eef9" stroke-width="1.7"/>
<circle cx="735.40" cy="816.80" r="3.6" fill="none" stroke="#e8eef9" stroke-width="1.7"/>
<circle cx="742.85" cy="821.10" r="3.6" fill="none" stroke="#e8eef9" stroke-width="1.7"/>
<circle cx="742.85" cy="829.70" r="3.6" fill="none" stroke="#e8eef9" stroke-width="1.7"/>
<circle cx="735.4" cy="859.2" r="16.4" fill="#194a98" stroke="#e8eef9" stroke-width="2.2"/>
<circle cx="735.4" cy="859.2" r="3.6" fill="none" stroke="#e8eef9" stroke-width="1.7"/>
<circle cx="735.40" cy="867.80" r="3.6" fill="none" stroke="#e8eef9" stroke-width="1.7"/>
<circle cx="727.95" cy="863.50" r="3.6" fill="none" stroke="#e8eef9" stroke-width="1.7"/>
<circle cx="727.95" cy="854.90" r="3.6" fill="none" stroke="#e8eef9" stroke-width="1.7"/>
<circle cx="735.40" cy="850.60" r="3.6" fill="none" stroke="#e8eef9" stroke-width="1.7"/>
<circle cx="742.85" cy="854.90" r="3.6" fill="none" stroke="#e8eef9" stroke-width="1.7"/>
<circle cx="742.85" cy="863.50" r="3.6" fill="none" stroke="#e8eef9" stroke-width="1.7"/>
<rect x="743.30" y="759.70" width="126.40" height="1.8" fill="#e8eef9"/>
<rect x="756.70" y="784.40" width="113.00" height="1.8" fill="#e8eef9"/>
<path d="M751.70 785.30 L757.70 782.30 L757.70 788.30Z" fill="#e8eef9"/>
<rect x="763.60" y="816.60" width="106.10" height="1.8" fill="#e8eef9"/>
<path d="M758.60 817.50 L764.60 814.50 L764.60 820.50Z" fill="#e8eef9"/>
<rect x="776.70" y="844.80" width="93.00" height="1.8" fill="#e8eef9"/>
<rect x="780.80" y="865.60" width="88.90" height="1.8" fill="#e8eef9"/>
<rect x="776.10" y="885.80" width="93.60" height="1.8" fill="#e8eef9"/>
<path d="M771.10 886.70 L777.10 883.70 L777.10 889.70Z" fill="#e8eef9"/>
<text x="876.00" y="766.70" font-size="20.50" font-weight="700" textLength="95.40" lengthAdjust="spacingAndGlyphs" fill="#fff" >Conductor</text>
<text x="876.00" y="791.70" font-size="20.50" font-weight="700" textLength="89.84" lengthAdjust="spacingAndGlyphs" fill="#fff" >Insulation</text>
<text x="877.80" y="824.40" font-size="20.50" font-weight="700" textLength="125.52" lengthAdjust="spacingAndGlyphs" fill="#fff" >Aluminum foil</text>
<text x="875.00" y="852.80" font-size="20.50" font-weight="700" textLength="47.22" lengthAdjust="spacingAndGlyphs" fill="#fff" >Braid</text>
<text x="877.00" y="877.20" font-size="20.50" font-weight="700" textLength="118.00" lengthAdjust="spacingAndGlyphs" fill="#fff" >Jacker (PVC)</text>
<text x="877.00" y="900.80" font-size="20.50" font-weight="700" textLength="105.54" lengthAdjust="spacingAndGlyphs" fill="#fff" >Jacket (PE)</text>
<path d="M805 965.9 L865 965.9 Q868.4 965.9 868.4 969.5 L868.4 1003 Q868.4 1006 865 1006.2 Q835 1009.5 805 1006.2 Q801.8 1006 801.8 1003 L801.8 969.5 Q801.8 965.9 805 965.9Z" fill="#fff"/>
<rect x="822.6" y="1010" width="25.4" height="6.2" rx="3" fill="#fff"/>
<text x="816.30" y="998.90" font-size="35.00" font-weight="700" textLength="41.26" lengthAdjust="spacingAndGlyphs" fill="#194a98" >hb</text>
<text x="874.50" y="998.90" font-size="35.00" font-weight="700" textLength="121.09" lengthAdjust="spacingAndGlyphs" fill="#fff" >-digital</text>
</g>
</svg></body></html>
